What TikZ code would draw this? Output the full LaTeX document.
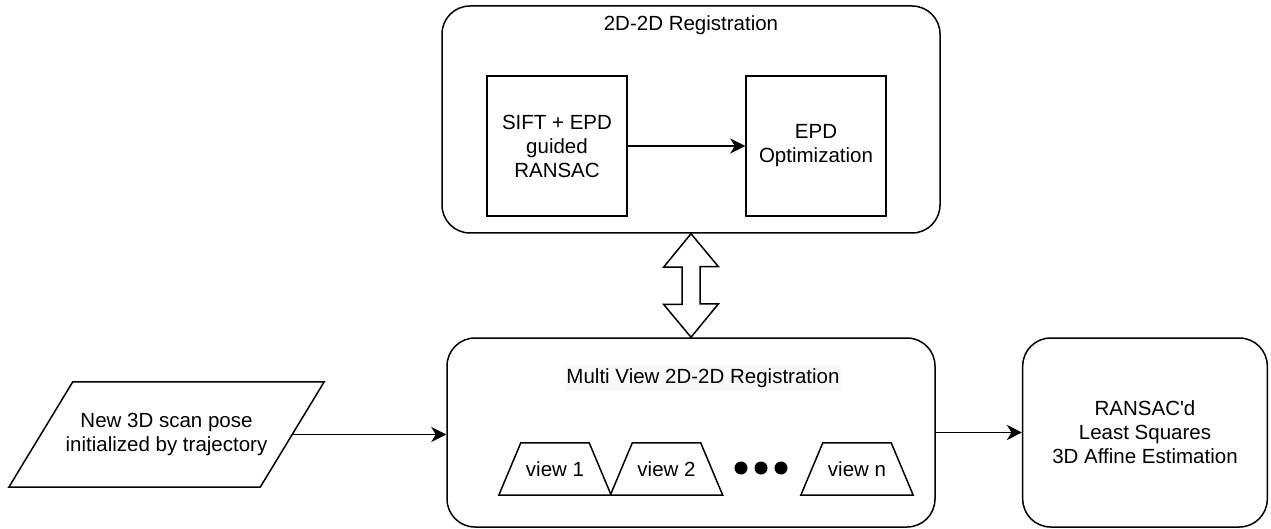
\documentclass[tikz,border=0pt]{standalone}
\usepackage{fontspec}
\setmainfont{Liberation Sans}[Ligatures=TeXOff]
\usetikzlibrary{arrows.meta,calc}
\begin{document}
\begin{tikzpicture}[x=1pt,y=-1pt,
  every node/.style={font=\fontsize{20.5}{24}\selectfont, align=center, inner sep=0pt},
  container/.style={draw, line width=1.5pt, rounded corners=28pt},
  sqbox/.style={draw, line width=1.5pt, minimum width=140pt, minimum height=140pt},
  viewbox/.style={minimum width=112pt, minimum height=52pt},
  dot/.style={circle, fill=black, minimum size=13pt},
  flow/.style={line width=1.5pt, -{Stealth[length=15pt,width=15pt,inset=4.5pt]}},
  lines/.style={line width=1.5pt, line join=miter}
]
\useasboundingbox (0,0) rectangle (1271,529);

% top container
\node[container, minimum width=498pt, minimum height=227pt] (top) at (691,119.5) {};
\node (toptitle) at (691,25) {2D-2D Registration};
\node[sqbox] (sift) at (557,146) {SIFT + EPD\\guided\\RANSAC};
\node[sqbox] (epd) at (816,146) {EPD\\Optimization};
\draw[flow] (sift.east) -- (epd.west);

% multi view container
\node[container, minimum width=488pt, minimum height=189pt] (multi) at (691,432.5) {};
\node[fill=gray!5, inner xsep=1pt, inner ysep=3pt] (multititle) at (703,378) {Multi View 2D-2D Registration};
\foreach \nm/\cx/\txt in {v1/555/view 1, v2/666.5/view 2, vn/857/view n}{
  \node[viewbox] (\nm) at (\cx,469) {\txt};
  \draw[lines] (\nm.south west) -- ($(\nm.north west)+(22,0)$) -- ($(\nm.north east)+(-22,0)$)
    -- (\nm.south east) -- cycle;
}
\node[dot] (d1) at (741,468) {};
\node[dot] (d2) at (761,468) {};
\node[dot] (d3) at (781,468) {};

% double arrow between containers
\draw[lines] (top.south) -- ++(27.5,33) -- ++(-18.5,0) -- ++(0,37) -- ++(18.5,0)
  -- (multi.north) -- ++(-27.5,-33) -- ++(18.5,0) -- ++(0,-37) -- ++(-18.5,0) -- cycle;

% input parallelogram
\node[minimum width=315pt, minimum height=105pt] (par) at (166.5,434.5)
  {New 3D scan pose\\initialized by trajectory};
\draw[lines] (par.south west) -- ($(par.north west)+(64,0)$) -- (par.north east)
  -- ($(par.south east)+(-64,0)$) -- cycle;
\coordinate (parE) at ($(par.east)+(-32,0)$);
\draw[flow] (parE) -- (parE -| multi.west);

% output box
\node[container, minimum width=244.6pt, minimum height=189pt] (out) at (1145,432.5)
  {RANSAC'd\\Least Squares\\3D Affine Estimation};
\draw[flow] (multi.east) -- (out.west);
\end{tikzpicture}
\end{document}
